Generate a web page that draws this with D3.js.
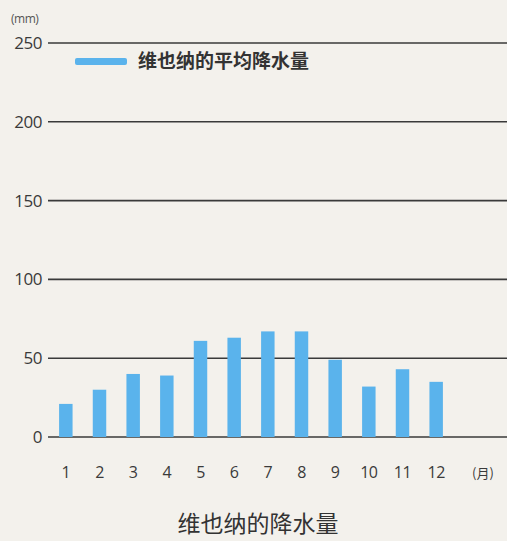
<!DOCTYPE html>
<html>
<head>
<meta charset="utf-8">
<script src="https://cdn.jsdelivr.net/npm/d3@7"></script>
<style>
  body { margin: 0; background: #f3f1ec; }
  svg { display: block; font-family: "Open Sans", "Noto Sans CJK SC", sans-serif; }
</style>
</head>
<body>
<div id="chart"></div>
<script>
const months = ["1", "2", "3", "4", "5", "6", "7", "8", "9", "10", "11", "12"];
const rainfall = [21, 30, 40, 39, 61, 63, 67, 67, 49, 32, 43, 35];
const yTicks = [0, 50, 100, 150, 200, 250];
const legendLabel = "维也纳的平均降水量";
const chartTitle = "维也纳的降水量";

const width = 507, height = 541;
const margin = { top: 43, right: 0, bottom: 104, left: 48 };

const svg = d3.select("#chart")
  .append("svg")
  .attr("width", width)
  .attr("height", height);

svg.append("rect")
  .attr("width", width)
  .attr("height", height)
  .attr("fill", "#f3f1ec");

const y = d3.scaleLinear()
  .domain([0, 250])
  .range([height - margin.bottom, margin.top]);

// bands: month 1 centred ~66, month 12 ~436
const x = d3.scaleBand()
  .domain(months)
  .range([49, 453])
  .paddingInner(0.6)
  .paddingOuter(0.3);

// grid lines
svg.append("g")
  .selectAll("line")
  .data(yTicks)
  .enter()
  .append("line")
  .attr("x1", margin.left)
  .attr("x2", width)
  .attr("y1", (d) => y(d))
  .attr("y2", (d) => y(d))
  .attr("stroke", "#3a3a3a")
  .attr("stroke-width", 1.6);

// y labels
svg.append("g")
  .selectAll("text")
  .data(yTicks)
  .enter()
  .append("text")
  .attr("x", 42)
  .attr("y", (d) => y(d) + 6)
  .attr("text-anchor", "end")
  .attr("fill", "#3a3a3a")
  .style("font-size", "17px")
  .style("letter-spacing", "-0.5px")
  .text((d) => d);

svg.append("text")
  .attr("x", 11)
  .attr("y", 23)
  .attr("fill", "#555")
  .style("font-size", "12px")
  .style("letter-spacing", "-0.5px")
  .text("(mm)");

// bars
svg.append("g")
  .selectAll("rect")
  .data(rainfall)
  .enter()
  .append("rect")
  .attr("x", (d, i) => x(months[i]))
  .attr("y", (d) => y(d))
  .attr("width", x.bandwidth())
  .attr("height", (d) => y(0) - y(d))
  .attr("fill", "#5ab3ec");

// x labels
svg.append("g")
  .selectAll("text")
  .data(months)
  .enter()
  .append("text")
  .attr("x", (d) => x(d) + x.bandwidth() / 2)
  .attr("y", 478)
  .attr("text-anchor", "middle")
  .attr("fill", "#3a3a3a")
  .style("font-size", "16px")
  .style("letter-spacing", "-0.5px")
  .text((d) => d);

svg.append("text")
  .attr("x", 483)
  .attr("y", 478)
  .attr("text-anchor", "middle")
  .attr("fill", "#3a3a3a")
  .style("font-size", "13px")
  .style("font-family", "'Noto Sans CJK SC', sans-serif")
  .text("(月)");

// legend
svg.append("rect")
  .attr("x", 75)
  .attr("y", 58)
  .attr("width", 52)
  .attr("height", 7)
  .attr("rx", 2)
  .attr("fill", "#5ab3ec");

svg.append("text")
  .attr("x", 138)
  .attr("y", 68)
  .attr("fill", "#333")
  .style("font-size", "19px")
  .style("font-weight", "bold")
  .style("font-family", "'Noto Sans CJK SC', sans-serif")
  .text(legendLabel);

// title
svg.append("text")
  .attr("x", 258)
  .attr("y", 532)
  .attr("text-anchor", "middle")
  .attr("fill", "#333")
  .style("font-size", "23px")
  .style("font-family", "'Noto Sans CJK SC', sans-serif")
  .text(chartTitle);
</script>
</body>
</html>
